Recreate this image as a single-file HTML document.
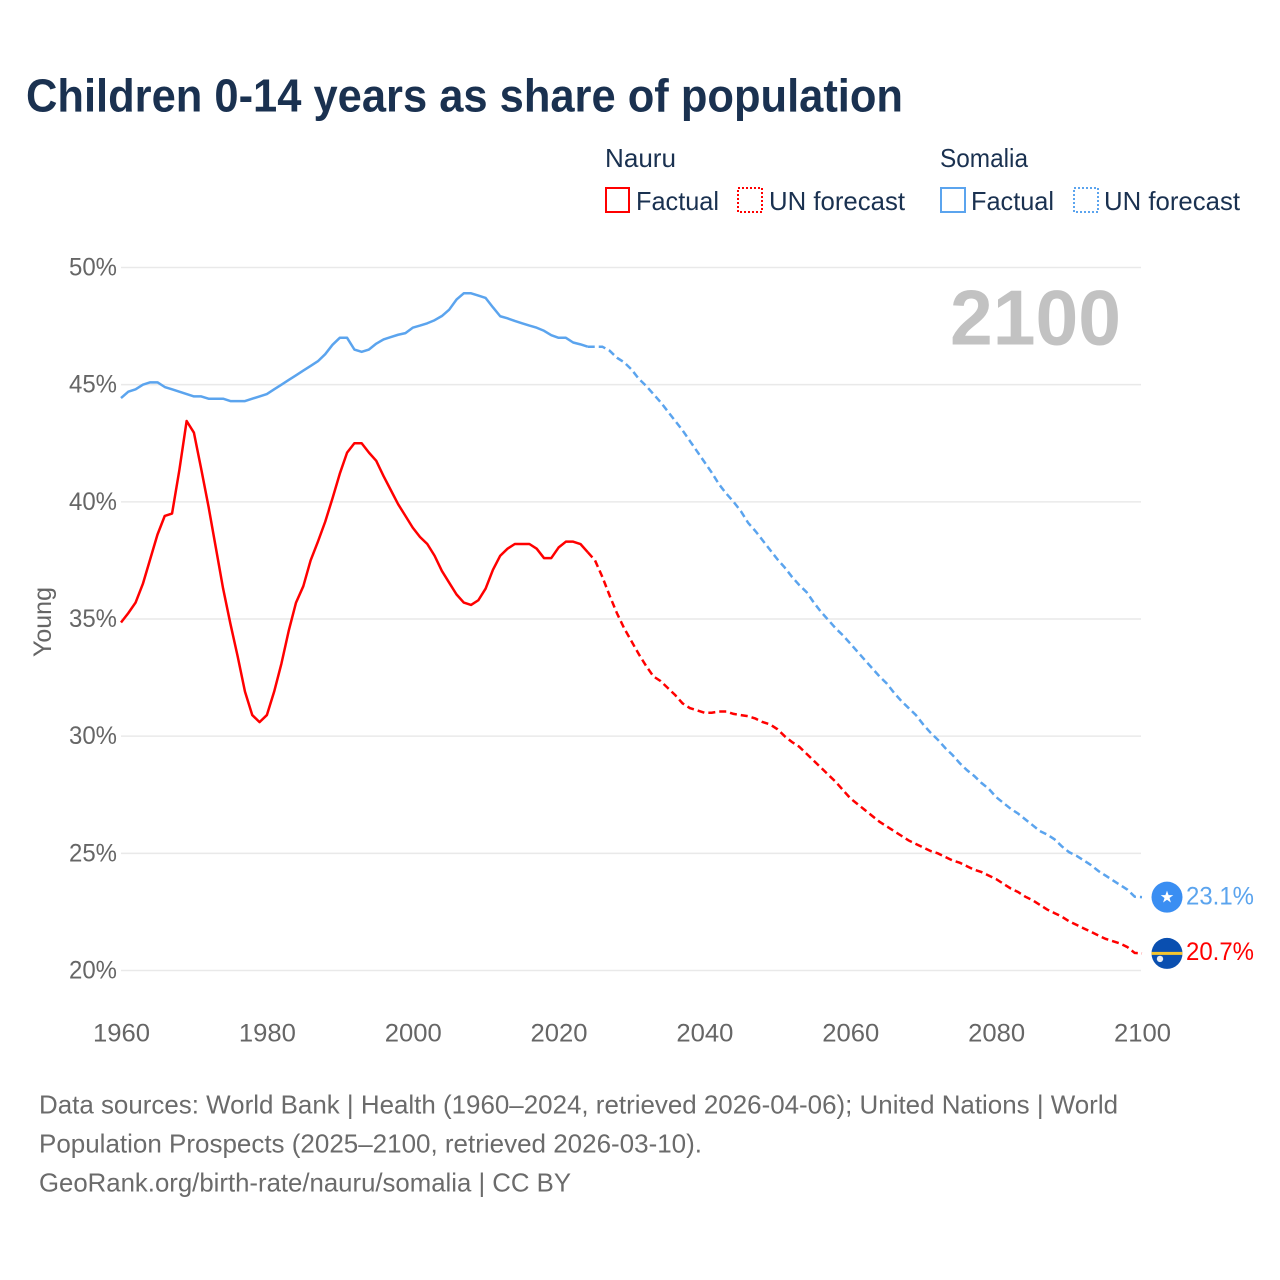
<!DOCTYPE html>
<html lang="en">
<head>
<meta charset="utf-8">
<title>Children 0-14 years as share of population</title>
<style>
html,body{margin:0;padding:0;background:#fff;}
svg{display:block;font-family:"Liberation Sans",sans-serif;}
</style>
</head>
<body>
<svg id="chart" xmlns="http://www.w3.org/2000/svg" width="1280" height="1280" viewBox="0 0 1280 1280">
  <rect x="0" y="0" width="1280" height="1280" fill="#fff"/>
  <text x="26" y="111.5" font-size="46" font-weight="700" fill="#1a3150" textLength="877" lengthAdjust="spacingAndGlyphs">Children 0-14 years as share of population</text>

  <g font-size="26" fill="#1a3150">
    <text x="605" y="167" textLength="71" lengthAdjust="spacingAndGlyphs">Nauru</text>
    <rect x="606" y="188" width="23" height="24" fill="none" stroke="#ff0000" stroke-width="2"/>
    <text x="636" y="210" textLength="83" lengthAdjust="spacingAndGlyphs">Factual</text>
    <rect x="738" y="188" width="24" height="24" fill="none" stroke="#ff0000" stroke-width="2" stroke-dasharray="2 2"/>
    <text x="769" y="210" textLength="136" lengthAdjust="spacingAndGlyphs">UN forecast</text>
    <text x="940" y="167" textLength="88" lengthAdjust="spacingAndGlyphs">Somalia</text>
    <rect x="941" y="188" width="24" height="24" fill="none" stroke="#5ba4ee" stroke-width="2"/>
    <text x="971" y="210" textLength="83" lengthAdjust="spacingAndGlyphs">Factual</text>
    <rect x="1074" y="188" width="24" height="24" fill="none" stroke="#5ba4ee" stroke-width="2" stroke-dasharray="2 2"/>
    <text x="1104" y="210" textLength="136" lengthAdjust="spacingAndGlyphs">UN forecast</text>
  </g>

  <g id="grid"></g>
  <g id="yaxis"></g>
  <g id="xaxis"></g>
  <text transform="translate(51,657) rotate(-90)" font-size="25" fill="#666" textLength="70" lengthAdjust="spacingAndGlyphs">Young</text>
  <text x="950" y="344.5" font-size="78" font-weight="700" fill="#c2c2c2" textLength="171" lengthAdjust="spacingAndGlyphs">2100</text>
  <g id="series"></g>
  <g id="ends"></g>

  <g font-size="26" fill="#6b6b6b">
    <text x="39" y="1113.5" textLength="1079" lengthAdjust="spacingAndGlyphs">Data sources: World Bank | Health (1960–2024, retrieved 2026-04-06); United Nations | World</text>
    <text x="39" y="1152.5" textLength="663" lengthAdjust="spacingAndGlyphs">Population Prospects (2025–2100, retrieved 2026-03-10).</text>
    <text x="39" y="1191.5" textLength="532" lengthAdjust="spacingAndGlyphs">GeoRank.org/birth-rate/nauru/somalia | CC BY</text>
  </g>
</svg>
<script>
const yTicks = [20, 25, 30, 35, 40, 45, 50];
const yTickLabels = ["20%", "25%", "30%", "35%", "40%", "45%", "50%"];
const xTicks = [1960, 1980, 2000, 2020, 2040, 2060, 2080, 2100];
const xTickLabels = ["1960", "1980", "2000", "2020", "2040", "2060", "2080", "2100"];

const factualYears = [1960,1961,1962,1963,1964,1965,1966,1967,1968,1969,1970,1971,1972,1973,1974,1975,1976,1977,1978,1979,1980,1981,1982,1983,1984,1985,1986,1987,1988,1989,1990,1991,1992,1993,1994,1995,1996,1997,1998,1999,2000,2001,2002,2003,2004,2005,2006,2007,2008,2009,2010,2011,2012,2013,2014,2015,2016,2017,2018,2019,2020,2021,2022,2023,2024];
const forecastYears = [2024,2025,2026,2027,2028,2029,2030,2031,2032,2033,2034,2035,2036,2037,2038,2039,2040,2041,2042,2043,2044,2045,2046,2047,2048,2049,2050,2051,2052,2053,2054,2055,2056,2057,2058,2059,2060,2061,2062,2063,2064,2065,2066,2067,2068,2069,2070,2071,2072,2073,2074,2075,2076,2077,2078,2079,2080,2081,2082,2083,2084,2085,2086,2087,2088,2089,2090,2091,2092,2093,2094,2095,2096,2097,2098,2099,2100];

const nauruFactual = [34.85,35.25,35.7,36.5,37.55,38.6,39.4,39.5,41.35,43.45,42.95,41.4,39.8,38.05,36.3,34.8,33.4,31.9,30.9,30.6,30.9,31.9,33.1,34.5,35.7,36.4,37.5,38.3,39.15,40.15,41.2,42.1,42.5,42.5,42.1,41.75,41.1,40.5,39.9,39.4,38.9,38.5,38.2,37.7,37.05,36.55,36.05,35.7,35.6,35.8,36.3,37.1,37.7,38.0,38.2,38.2,38.2,38.0,37.6,37.6,38.05,38.3,38.3,38.2,37.85];
const nauruForecast = [37.85,37.5,36.8,36.0,35.25,34.6,34.05,33.5,33.0,32.55,32.35,32.05,31.75,31.4,31.2,31.1,31.0,31.0,31.05,31.05,30.95,30.9,30.85,30.75,30.6,30.5,30.3,30.0,29.75,29.55,29.25,28.95,28.65,28.35,28.05,27.7,27.35,27.1,26.85,26.6,26.35,26.15,25.95,25.75,25.55,25.4,25.25,25.1,25.0,24.85,24.7,24.6,24.45,24.3,24.2,24.05,23.9,23.7,23.5,23.35,23.15,23.0,22.8,22.6,22.45,22.3,22.1,21.95,21.8,21.65,21.5,21.35,21.25,21.15,21.0,20.75,20.73];
const somaliaFactual = [44.43,44.7,44.8,45.0,45.1,45.1,44.9,44.8,44.7,44.6,44.5,44.5,44.4,44.4,44.4,44.3,44.3,44.3,44.4,44.5,44.6,44.8,45.0,45.2,45.4,45.6,45.8,46.0,46.3,46.7,47.0,47.0,46.5,46.4,46.5,46.75,46.93,47.03,47.13,47.2,47.43,47.52,47.62,47.75,47.93,48.2,48.63,48.9,48.9,48.8,48.7,48.3,47.92,47.83,47.72,47.62,47.52,47.43,47.3,47.11,47.0,47.0,46.8,46.72,46.62];
const somaliaForecast = [46.62,46.62,46.62,46.45,46.15,45.95,45.65,45.25,44.95,44.6,44.25,43.85,43.45,43.05,42.6,42.15,41.7,41.25,40.75,40.35,40.0,39.6,39.1,38.75,38.35,37.95,37.55,37.2,36.8,36.45,36.15,35.7,35.3,34.95,34.6,34.3,33.95,33.6,33.25,32.9,32.55,32.25,31.85,31.5,31.2,30.9,30.5,30.15,29.85,29.5,29.2,28.85,28.55,28.3,28.0,27.75,27.4,27.15,26.9,26.7,26.45,26.2,25.95,25.8,25.6,25.3,25.05,24.9,24.7,24.5,24.25,24.05,23.85,23.65,23.45,23.15,23.13];
const nauruEndLabel = "20.7%";
const somaliaEndLabel = "23.1%";

const NS = "http://www.w3.org/2000/svg";
const RED = "#ff0000";
const BLUE = "#5ba4ee";

function xScale(year) { return 121 + (year - 1960) * (1021 / 140); }
function yScale(value) { return 970.5 - (value - 20) * (703 / 30); }

function make(tag, attrs, parent) {
  const el = document.createElementNS(NS, tag);
  for (const k in attrs) el.setAttribute(k, attrs[k]);
  parent.appendChild(el);
  return el;
}

const grid = document.getElementById("grid");
const yaxis = document.getElementById("yaxis");
const xaxis = document.getElementById("xaxis");
const series = document.getElementById("series");
const ends = document.getElementById("ends");

yTicks.forEach(function (t, i) {
  const line = make("line", { x1: 121, x2: 1141, y1: yScale(t), y2: yScale(t), stroke: "#e9e9e9", "stroke-width": 1.5 }, grid);
  
  
  const label = make("text", { x: 117, y: yScale(t) + 8, "text-anchor": "end", "font-size": 25, fill: "#666", textLength: 48, lengthAdjust: "spacingAndGlyphs" }, yaxis);
  
  
  label.textContent = yTickLabels[i];
});

xTicks.forEach(function (t, i) {
  const label = make("text", { x: xScale(t) + 0.5, y: 1041.5, "text-anchor": "middle", "font-size": 25, fill: "#666", textLength: 57, lengthAdjust: "spacingAndGlyphs" }, xaxis);
  
  
  label.textContent = xTickLabels[i];
});

function pathFor(years, values) {
  return values.map(function (v, i) {
    return (i ? "L" : "M") + xScale(years[i]).toFixed(2) + " " + yScale(v).toFixed(2);
  }).join("");
}

const somaliaFactualLine = make("path", { d: pathFor(factualYears, somaliaFactual), fill: "none", stroke: BLUE, "stroke-width": 2.5, "stroke-linejoin": "round" }, series);


const somaliaForecastLine = make("path", { d: pathFor(forecastYears, somaliaForecast), fill: "none", stroke: BLUE, "stroke-width": 2.5, "stroke-dasharray": "7 4" }, series);


const nauruFactualLine = make("path", { d: pathFor(factualYears, nauruFactual), fill: "none", stroke: RED, "stroke-width": 2.5, "stroke-linejoin": "round" }, series);


const nauruForecastLine = make("path", { d: pathFor(forecastYears, nauruForecast), fill: "none", stroke: RED, "stroke-width": 2.5, "stroke-dasharray": "7 4" }, series);



const FLAG_X = 1167;
const somaliaEndY = yScale(somaliaForecast[somaliaForecast.length - 1]);
const nauruEndY = yScale(nauruForecast[nauruForecast.length - 1]);

const somaliaFlag = make("g", { transform: "translate(" + FLAG_X + "," + somaliaEndY + ")" }, ends);


make("circle", { r: 15.5, fill: "#3a8ef2" }, somaliaFlag);
make("polygon", { points: "0,-6.5 1.6,-2 6.3,-2 2.5,0.8 3.9,5.3 0,2.6 -3.9,5.3 -2.5,0.8 -6.3,-2 -1.6,-2", fill: "#fff" }, somaliaFlag);

const nauruFlag = make("g", { transform: "translate(" + FLAG_X + "," + nauruEndY + ")" }, ends);


make("circle", { r: 15.5, fill: "#0a4fb0" }, nauruFlag);
make("rect", { x: -15.4, y: -1.5, width: 30.8, height: 3, fill: "#f5c62f" }, nauruFlag);
make("circle", { cx: -7, cy: 5.5, r: 3.2, fill: "#e8eef5" }, nauruFlag);

const somaliaValue = make("text", { x: 1186, y: somaliaEndY + 7.5, "font-size": 25, fill: BLUE, textLength: 68, lengthAdjust: "spacingAndGlyphs" }, ends);


somaliaValue.textContent = somaliaEndLabel;
const nauruValue = make("text", { x: 1186, y: nauruEndY + 6.5, "font-size": 25, fill: RED, textLength: 68, lengthAdjust: "spacingAndGlyphs" }, ends);


nauruValue.textContent = nauruEndLabel;
</script>
</body>
</html>
